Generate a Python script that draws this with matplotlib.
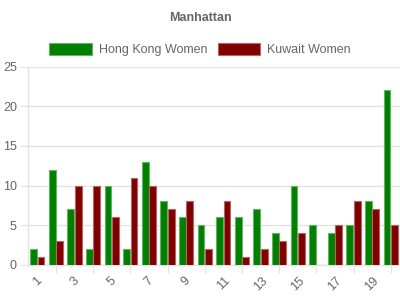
import numpy as np
import matplotlib
matplotlib.use('Agg')
import matplotlib.pyplot as plt

# data
categories = [str(i) for i in range(1, 21)]
hongKong = [2, 12, 7, 2, 10, 2, 13, 8, 6, 5, 6, 6, 7, 4, 10, 5, 4, 5, 8, 22]
kuwait = [1, 3, 10, 10, 6, 11, 10, 7, 8, 2, 8, 1, 2, 3, 4, 0, 5, 8, 7, 5]

plt.rcParams['font.family'] = ['Liberation Sans', 'DejaVu Sans']

TEXT = '#666666'
GRID = '#e3e3e3'

fig = plt.figure(figsize=(4, 3), dpi=100)
ax = fig.add_axes([0.07, 0.117, 0.93, 0.661])

x = np.arange(len(categories))
barWidth = 0.36
ax.bar(x - 0.2, hongKong, barWidth, color='#008000', edgecolor='#66b366',
       linewidth=0.8, label='Hong Kong Women', zorder=3)
ax.bar(x + 0.2, kuwait, barWidth, color='#800000', edgecolor='#b36666',
       linewidth=0.8, label='Kuwait Women', zorder=3)

ax.set_xlim(-0.5, len(categories) - 0.5)
ax.set_ylim(0, 25)
ax.set_yticks(range(0, 26, 5))
ax.grid(axis='y', color=GRID, linewidth=1, zorder=0)

# tick marks sit on even categories, labels on odd ones
ax.set_xticks(x[1::2])
ax.set_xticklabels([])
ax.set_xticks(x[0::2], minor=True)
ax.set_xticklabels(categories[0::2], minor=True, rotation=45, ha='center', va='top')
ax.tick_params(axis='x', which='major', length=6, color=GRID)
ax.tick_params(axis='x', which='minor', length=0, pad=7, labelsize=9, labelcolor=TEXT)
ax.tick_params(axis='y', length=6, color=GRID, pad=2, labelsize=9, labelcolor=TEXT)

for side in ['top', 'right']:
    ax.spines[side].set_visible(False)
for side in ['left', 'bottom']:
    ax.spines[side].set_color(GRID)
    ax.spines[side].set_linewidth(1)

fig.suptitle('Manhattan', x=0.5, y=0.96, fontsize=9, fontweight='bold', color=TEXT)

leg = ax.legend(loc='center', bbox_to_anchor=(0.5, 0.835), bbox_transform=fig.transFigure,
                ncol=2, frameon=False, fontsize=9, handlelength=3.4, handleheight=1.1,
                handletextpad=0.55, columnspacing=0.85, borderpad=0)
for text in leg.get_texts():
    text.set_color(TEXT)

fig.savefig('out.png', dpi=100)
